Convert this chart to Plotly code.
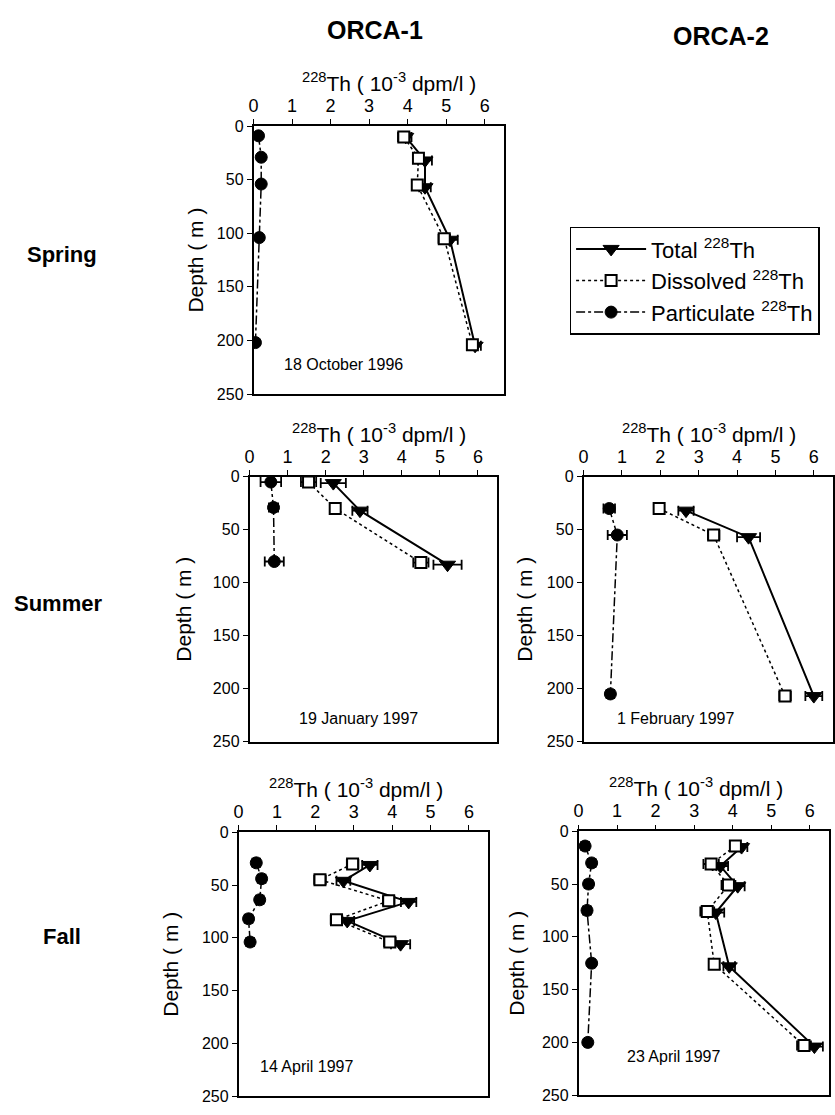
import plotly.graph_objects as go

FONT = "Liberation Sans, Arial, Helvetica, sans-serif"

# ---- 228Th profiles: depth (m) and activity (10^-3 dpm/l) with 1-sigma errors ----
# ORCA-1, spring (18 October 1996)
sp1_total_depth = [10, 32, 57, 106, 205]
sp1_total = [3.95, 4.45, 4.45, 5.1, 5.75]
sp1_total_err = [0.15, 0.18, 0.15, 0.2, 0.15]
sp1_diss_depth = [10, 30, 55, 105, 204]
sp1_diss = [3.9, 4.28, 4.25, 4.95, 5.68]
sp1_diss_err = [0.15, 0.12, 0.12, 0.15, 0.1]
sp1_part_depth = [9, 29, 54, 104, 202]
sp1_part = [0.13, 0.2, 0.2, 0.15, 0.05]
sp1_part_err = [0.05, 0.06, 0.06, 0.05, 0.05]

# ORCA-1, summer (19 January 1997)
su1_total_depth = [6, 32, 83]
su1_total = [2.2, 2.9, 5.2]
su1_total_err = [0.33, 0.2, 0.37]
su1_diss_depth = [5, 30, 81]
su1_diss = [1.55, 2.25, 4.5]
su1_diss_err = [0.2, 0.12, 0.2]
su1_part_depth = [5, 29, 80]
su1_part = [0.56, 0.63, 0.65]
su1_part_err = [0.27, 0.12, 0.25]

# ORCA-2, summer (1 February 1997)
su2_total_depth = [32, 57, 207]
su2_total = [2.67, 4.3, 6.0]
su2_total_err = [0.2, 0.3, 0.22]
su2_diss_depth = [30, 55, 207]
su2_diss = [1.97, 3.39, 5.25]
su2_diss_err = [0.1, 0.15, 0.15]
su2_part_depth = [30, 55, 205]
su2_part = [0.67, 0.88, 0.7]
su2_part_err = [0.15, 0.25, 0.1]

# ORCA-1, fall (14 April 1997)
fa1_total_depth = [31, 46, 66, 84, 106]
fa1_total = [3.42, 2.73, 4.43, 2.83, 4.22]
fa1_total_err = [0.2, 0.18, 0.2, 0.18, 0.25]
fa1_diss_depth = [30, 45, 65, 83, 104]
fa1_diss = [2.97, 2.12, 3.91, 2.55, 3.94]
fa1_diss_err = [0.15, 0.15, 0.15, 0.15, 0.15]
fa1_part_depth = [29, 44, 64, 82, 104]
fa1_part = [0.46, 0.6, 0.55, 0.26, 0.3]
fa1_part_err = [0.1, 0.1, 0.1, 0.1, 0.1]

# ORCA-2, fall (23 April 1997)
fa2_total_depth = [15, 33, 52, 77, 128, 204]
fa2_total = [4.23, 3.68, 4.13, 3.56, 3.91, 6.12]
fa2_total_err = [0.15, 0.2, 0.18, 0.22, 0.15, 0.22]
fa2_diss_depth = [14, 31, 51, 76, 126, 203]
fa2_diss = [4.07, 3.44, 3.89, 3.34, 3.52, 5.85]
fa2_diss_err = [0.12, 0.2, 0.18, 0.18, 0.12, 0.18]
fa2_part_depth = [14, 30, 50, 75, 125, 200]
fa2_part = [0.17, 0.34, 0.26, 0.22, 0.34, 0.24]
fa2_part_err = [0.1, 0.1, 0.1, 0.1, 0.08, 0.08]

x_ticks = [0, 1, 2, 3, 4, 5, 6]
depth_ticks = [0, 50, 100, 150, 200, 250]

series_names = ["Total <sup>228</sup>Th", "Dissolved <sup>228</sup>Th",
                "Particulate <sup>228</sup>Th"]
column_titles = ["ORCA-1", "ORCA-2"]
row_titles = ["Spring", "Summer", "Fall"]
x_title = "<sup>228</sup>Th ( 10<sup>-3</sup> dpm/l )"
y_title = "Depth ( m )"

W, H = 835, 1115

# panel frames in pixels: (left, right, top, bottom), plus label placement
panels = [
    dict(ax="", frame=(250, 502, 120, 392), date="18 October 1996", date_xy=(2.34, 222),
         title_dx=10, ytitle_dx=-58,
         data=[(sp1_total, sp1_total_depth, sp1_total_err),
               (sp1_diss, sp1_diss_depth, sp1_diss_err),
               (sp1_part, sp1_part_depth, sp1_part_err)]),
    dict(ax="2", frame=(246, 495, 476, 745), date="19 January 1997", date_xy=(2.87, 228),
         title_dx=6, ytitle_dx=-66,
         data=[(su1_total, su1_total_depth, su1_total_err),
               (su1_diss, su1_diss_depth, su1_diss_err),
               (su1_part, su1_part_depth, su1_part_err)]),
    dict(ax="3", frame=(582, 833, 476, 745), date="1 February 1997", date_xy=(2.4, 228),
         title_dx=1, ytitle_dx=-59,
         data=[(su2_total, su2_total_depth, su2_total_err),
               (su2_diss, su2_diss_depth, su2_diss_err),
               (su2_part, su2_part_depth, su2_part_err)]),
    dict(ax="4", frame=(235, 486, 837, 1105), date="14 April 1997", date_xy=(1.77, 222),
         title_dx=-7, ytitle_dx=-68,
         data=[(fa1_total, fa1_total_depth, fa1_total_err),
               (fa1_diss, fa1_diss_depth, fa1_diss_err),
               (fa1_part, fa1_part_depth, fa1_part_err)]),
    dict(ax="5", frame=(577, 829, 836, 1104), date="23 April 1997", date_xy=(2.47, 213),
         title_dx=-8, ytitle_dx=-62,
         data=[(fa2_total, fa2_total_depth, fa2_total_err),
               (fa2_diss, fa2_diss_depth, fa2_diss_err),
               (fa2_part, fa2_part_depth, fa2_part_err)]),
]

styles = [
    dict(line=dict(color="black", width=2, dash="solid"),
         marker=dict(symbol="triangle-down", size=14, color="black",
                     line=dict(color="black", width=1))),
    dict(line=dict(color="black", width=1.5, dash="dot"),
         marker=dict(symbol="square", size=11, color="white",
                     line=dict(color="black", width=2))),
    dict(line=dict(color="black", width=1.5, dash="dashdot"),
         marker=dict(symbol="circle", size=12, color="black",
                     line=dict(color="black", width=1))),
]

fig = go.Figure()
layout = {}
annotations = []

for p_i, p in enumerate(panels):
    left, right, top, bottom = p["frame"]
    xa, ya = "x" + p["ax"], "y" + p["ax"]
    for s_i, (vals, depth, err) in enumerate(p["data"]):
        st = styles[s_i]
        fig.add_trace(go.Scatter(
            x=vals, y=depth, xaxis=xa, yaxis=ya,
            mode="lines+markers", name=series_names[s_i],
            legendgroup=str(s_i), showlegend=(p_i == 0),
            line=st["line"], marker=st["marker"],
            error_x=dict(type="data", array=err, visible=True,
                         color="black", thickness=1.8, width=5),
        ))
    layout["xaxis" + p["ax"]] = dict(
        domain=[left / W, right / W], anchor=ya, side="top",
        range=[0, 6.5], tickvals=x_ticks, ticks="outside", ticklen=5,
        tickwidth=1.3, tickcolor="black", showline=True, linecolor="black",
        linewidth=1.5, mirror=True, showgrid=False, zeroline=False,
        tickfont=dict(family=FONT, size=18, color="black"), fixedrange=True,
    )
    layout["yaxis" + p["ax"]] = dict(
        domain=[1 - bottom / H, 1 - top / H], anchor=xa,
        range=[250, 0], tickvals=depth_ticks, ticks="outside", ticklen=5,
        tickwidth=1.3, tickcolor="black", showline=True, linecolor="black",
        linewidth=1.5, mirror=True, showgrid=False, zeroline=False,
        tickfont=dict(family=FONT, size=16, color="black"), fixedrange=True,
    )
    # axis titles
    annotations.append(dict(
        text=x_title, xref=xa + " domain", yref=ya + " domain",
        x=0.5, y=1, xshift=p["title_dx"], yshift=44, showarrow=False,
        xanchor="center", yanchor="middle",
        font=dict(family=FONT, size=21, color="black")))
    annotations.append(dict(
        text=y_title, xref=xa + " domain", yref=ya + " domain",
        x=0, y=0.5, xshift=p["ytitle_dx"], showarrow=False, textangle=-90,
        xanchor="center", yanchor="middle",
        font=dict(family=FONT, size=21, color="black")))
    # sampling date
    annotations.append(dict(
        text=p["date"], xref=xa, yref=ya, x=p["date_xy"][0], y=p["date_xy"][1],
        showarrow=False, xanchor="center", yanchor="middle",
        font=dict(family=FONT, size=16, color="black")))

# column and row headings
for txt, (cx, cy) in zip(column_titles, [(372, 22), (720, 28)]):
    annotations.append(dict(text="<b>%s</b>" % txt, xref="paper", yref="paper",
                            x=cx / W, y=1 - cy / H, showarrow=False,
                            xanchor="center", yanchor="middle",
                            font=dict(family=FONT, size=25, color="black")))
for txt, (cx, cy) in zip(row_titles, [(57, 250), (53, 605), (57, 943)]):
    annotations.append(dict(text="<b>%s</b>" % txt, xref="paper", yref="paper",
                            x=cx / W, y=1 - cy / H, showarrow=False,
                            xanchor="center", yanchor="middle",
                            font=dict(family=FONT, size=22, color="black")))

fig.update_layout(
    **layout,
    annotations=annotations,
    width=W, height=H,
    margin=dict(l=0, r=0, t=0, b=0),
    paper_bgcolor="white", plot_bgcolor="white",
    font=dict(family=FONT, color="black"),
    showlegend=True,
    legend=dict(x=568 / W, y=1 - 222 / H, xanchor="left", yanchor="top",
                bgcolor="white", bordercolor="black", borderwidth=1.5,
                font=dict(family=FONT, size=22, color="black"),
                itemwidth=70, tracegroupgap=0),
)

fig.write_html("out.html")
